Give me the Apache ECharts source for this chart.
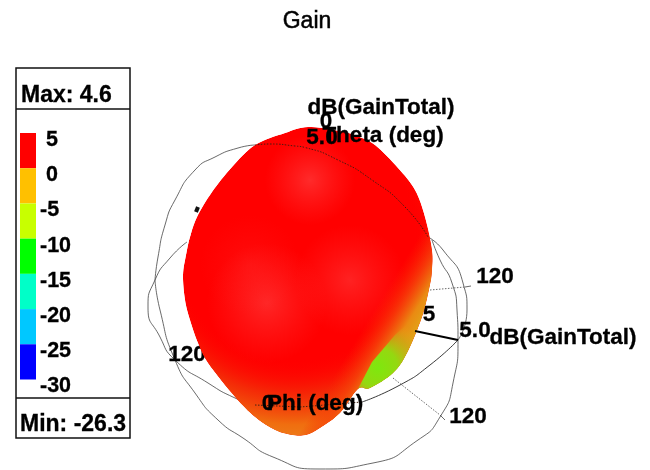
<!DOCTYPE html>
<html><head><meta charset="utf-8">
<style>html,body{margin:0;padding:0;background:#fff}#c{width:650px;height:470px}</style>
<script src="https://cdn.jsdelivr.net/npm/echarts@6/dist/echarts.min.js"></script>
</head><body><div id="c"></div>
<script>
const titleText = 'Gain';
const maxLabel = 'Max: 4.6';
const minLabel = 'Min: -26.3';
const bandEdges = [5, 0, -5, -10, -15, -20, -25, -30];
const bandColors = ['#ff0000', '#ffc000', '#c8ff00', '#00ff00', '#00ffc8', '#00c8ff', '#0000ff'];

const lobeOutline = [[0.8,17.3],[4,16.9],[5.7,16.4],[7.5,15.5],[9.8,13.2],[11.5,11],[12.5,8.3],[13.2,5],[13.2,3],[13,1.5],[12.2,-1.7],[10.7,-5.3],[9.3,-7.3],[7.0,-8.8],[5.8,-8.9],[4.0,-11.3],[2,-12.8],[0.6,-13.5],[-0.8,-13.5],[-2.5,-13],[-4.5,-11.7],[-6.5,-9.7],[-9.2,-6.3],[-10.2,-4.3],[-11,-2],[-11.5,0],[-11.7,2.5],[-11.4,4.5],[-11,6.3],[-10.3,8.3],[-8.8,10.8],[-6.8,13.3],[-4.5,15.5],[-1.5,16.7]];
const sideLobeRegion = [[5.8,-8.9],[7.2,-6.2],[9.5,-3.5],[13.2,0],[15,-10],[5.8,-10]];

const topArcLeft = [[-14.5,2],[-14.2,4.3],[-13.5,7.5],[-12.5,10],[-10.5,13],[-8.5,14.3],[-6.2,15.2],[-4.5,15.5]];
const topArcOverLobe = [[-4.5,15.5],[-3,15.6],[-0.5,15.4],[0.5,15.25],[3.8,14],[7.2,12],[10.5,9.3],[12.8,6.3]];
const topArcRight = [[12.8,6.3],[14.3,5],[16.3,1.7],[16.7,-1],[15.8,-4]];
const greatCircle = [[13.2,6],[14,4],[15.2,1.7],[15.7,-1],[15.8,-4],[15.3,-8.3],[14,-11.7],[11.8,-14],[7.3,-16.3],[2,-16.9],[-2.7,-15.7],[-5.7,-13.8],[-8.2,-12],[-10.5,-9.3],[-12.5,-6],[-14,-1],[-14.5,2]];
const ringLeft = [[-11.3,5.8],[-13,4.2],[-14.5,2],[-15.2,-0.7],[-14,-3.7],[-12.5,-6],[-9.2,-8.3],[-6.5,-9.8],[-4.5,-10.5]];
const ringOverLobe = [[-4.5,-10.5],[0,-10.7],[6.2,-10.2]];
const ringRight = [[6.2,-10.2],[10,-8.5],[13,-6.5],[15.8,-4]];
const tickUpperDotted = [[13,1],[16.5,1.3]];
const tickUpperSolid = [[16.5,1.3],[17.1,1.4]];
const tickLowerDotted = [[9.3,-7.8],[14,-11.5]];
const tickLowerSolid = [[14,-11.5],[14.5,-12]];
const tickLeft = [[-4.5,-10.5],[-4.3,-10.9],[-3.3,-11]];
const tickTop = [[0.4,15.4],[0.6,14.9]];
const radialAxis = [[11.5,-3.1],[15.8,-4]];
const hiddenGlyph = [[-10.4,8.8],[-10.2,9.3]];

const labelsBehind = [['120',-11.3,-5.5],['5',12.9,-1.5]];
const labelsFront = [
  ['dB(GainTotal)',8.1,19.2],['0',2.6,17.8],['Theta (deg)',8.3,16.4],['5.0',2.2,16.2],
  ['120',19.5,2.3],['5.0',17.5,-3.1],['dB(GainTotal)',26.3,-3.8],['120',16.8,-11.7],
  ['0',-3.2,-10.4],['Phi (deg)',1.5,-10.4]
];

const FONT = '"Liberation Sans", Arial, sans-serif';
const INK = '#000';

function wire(data, dotted, width, color) {
  return {type:'line', xAxisIndex:0, yAxisIndex:0, data, smooth:data.length>3?0.6:false, symbol:'none', silent:true, z:dotted?6:(width>1?7:2),
    lineStyle:{width:width||0.8, color:color||'#444', type:dotted?[1.5,1.5]:'solid'}};
}
function labelSeries(data, z) {
  return {type:'scatter', xAxisIndex:0, yAxisIndex:0, symbolSize:0, z, silent:true, itemStyle:{opacity:1},
    data:data.map(d=>({value:[d[1],d[2]], name:d[0]})),
    label:{show:true, position:'inside', formatter:p=>p.name, color:INK, fontFamily:FONT, fontSize:22.5, fontWeight:'bold', align:'center', verticalAlign:'middle', textBorderColor:INK, textBorderWidth:0.3}};
}
function radial(api, c, r, stops) {
  const p = api.coord(c), q = api.coord([c[0]+r, c[1]]);
  return {type:'radial', x:p[0], y:p[1], r:Math.abs(q[0]-p[0]), global:true, colorStops:stops.map(s=>({offset:s[0], color:s[1]}))};
}
// closed Catmull-Rom drawing path through the outline readings
function closedSpline(points, steps) {
  const out = [], n = points.length;
  for (let i = 0; i < n; i++) {
    const p0=points[(i+n-1)%n], p1=points[i], p2=points[(i+1)%n], p3=points[(i+2)%n];
    for (let s = 0; s < steps; s++) {
      const t=s/steps, t2=t*t, t3=t2*t;
      out.push([0,1].map(k=>0.5*(2*p1[k]+(p2[k]-p0[k])*t+(2*p0[k]-5*p1[k]+4*p2[k]-p3[k])*t2+(3*p1[k]-p0[k]-3*p2[k]+p3[k])*t3)));
    }
  }
  return out;
}
function renderLobe(params, api) {
  const pts = closedSpline(lobeOutline.map(p=>api.coord(p)), 8);
  const clip = {type:'polygon', shape:{points:pts}};
  const fill = (style)=>({type:'polygon', shape:{points:pts}, style});
  const glow = (c,r,a)=>fill({fill:radial(api,c,r,[[0,'rgba(255,85,85,'+a+')'],[1,'rgba(255,60,60,0)']])});
  const a = api.coord([8,0]), b = api.coord([13.1,-3.1]);
  const side = sideLobeRegion.map(p=>api.coord(p));
  return {type:'group', clipPath:clip, children:[
    fill({fill:'#ff0000'}),
    glow([1,12],4.5,0.5), glow([-3.3,-0.3],6,0.45), glow([5,2],5.5,0.4), glow([-5,3.5],5,0.15),
    fill({fill:radial(api,[-0.5,6],20.5,[[0,'rgba(255,0,0,0)'],[0.58,'rgba(255,0,0,0)'],[0.76,'rgba(240,60,10,0.7)'],[0.9,'rgba(240,110,15,1)'],[1,'rgba(235,130,30,1)']])}),
    fill({fill:{type:'linear', x:a[0], y:a[1], x2:b[0], y2:b[1], global:true, colorStops:[
      {offset:0,color:'rgba(250,40,0,0)'},{offset:0.33,color:'rgba(245,70,10,0.75)'},{offset:0.6,color:'#ea8a12'},{offset:0.85,color:'#e0a818'},{offset:1,color:'#dcb018'}]}}),
    {type:'polygon', shape:{points:side}, style:{fill:radial(api,[7.8,-6.8],5,[[0,'#7ee80e'],[0.4,'#95d810'],[0.75,'rgba(200,170,20,0.6)'],[1,'rgba(232,160,21,0)']])}}
  ]};
}
function renderBand(params, api) {
  const p1 = api.coord([0, api.value(0)]), p2 = api.coord([1, api.value(1)]);
  return {type:'rect', shape:{x:p1[0], y:p1[1], width:p2[0]-p1[0], height:p2[1]-p1[1]}, style:{fill:bandColors[params.dataIndex]}};
}

const bandData = bandColors.map((c,i)=>[bandEdges[i], bandEdges[i+1]]);
const chart = echarts.init(document.getElementById('c'), null, {renderer:'canvas'});
chart.setOption({
  animation:false, backgroundColor:'#fff',
  title:{text:titleText, left:302, top:5, textAlign:'center', textStyle:{fontFamily:FONT, fontSize:23, fontWeight:'normal', color:INK, textBorderColor:INK, textBorderWidth:0.5}},
  grid:[{left:0, right:0, top:0, bottom:0},{left:20, width:16, top:133, height:246.5}],
  xAxis:[{type:'value', min:-30, max:35, show:false, gridIndex:0},{type:'value', min:0, max:1, show:false, gridIndex:1}],
  yAxis:[{type:'value', min:-17, max:30, show:false, gridIndex:0},
    {type:'value', gridIndex:1, min:-30, max:5, interval:5, position:'right', axisLine:{show:false}, axisTick:{show:false}, splitLine:{show:false},
     axisLabel:{show:true, margin:4, align:'left', verticalAlign:'top', lineHeight:14, color:INK, fontFamily:FONT, fontSize:21.5, fontWeight:'bold', textBorderColor:INK, textBorderWidth:0.3, formatter:v=>v>=0?' '+v:String(v)}}],
  graphic:[
    {type:'rect', z:0, shape:{x:16,y:68,width:114,height:370}, style:{fill:'#fff',stroke:'#111',lineWidth:1.5}},
    {type:'line', z:1, shape:{x1:16,y1:109,x2:130,y2:109}, style:{stroke:'#111',lineWidth:1.5}},
    {type:'line', z:1, shape:{x1:16,y1:398,x2:130,y2:398}, style:{stroke:'#111',lineWidth:1.5}},
    {type:'text', z:1, x:21, y:96, style:{text:maxLabel, fill:INK, stroke:INK, lineWidth:0.3, font:'bold 23px '+FONT, verticalAlign:'middle'}},
    {type:'text', z:1, x:20, y:425, style:{text:minLabel, fill:INK, stroke:INK, lineWidth:0.3, font:'bold 23px '+FONT, verticalAlign:'middle'}}
  ],
  series:[
    wire(topArcLeft), wire(topArcRight), wire(greatCircle), wire(ringLeft), wire(ringRight,false,0.9,'#222'),
    wire(tickUpperDotted,true), wire(tickUpperSolid), wire(tickLowerDotted,true), wire(tickLowerSolid),
    wire(hiddenGlyph,false,4,'#111'),
    labelSeries(labelsBehind,3),
    {type:'custom', xAxisIndex:0, yAxisIndex:0, coordinateSystem:'cartesian2d', z:4, clip:false, silent:true, data:[[0,0]], renderItem:renderLobe, encode:{x:0,y:1}},
    wire(topArcOverLobe,true,1,'#4a1a10'), wire(ringOverLobe,true,1,'#442211'), wire(tickTop,false,1,'#333'), wire(tickLeft,false,1,'#222'),
    wire(radialAxis,false,2,'#000'),
    labelSeries(labelsFront,8),
    {type:'custom', xAxisIndex:1, yAxisIndex:1, z:5, silent:true, data:bandData, renderItem:renderBand, encode:{y:[0,1]}}
  ]
});
</script></body></html>
